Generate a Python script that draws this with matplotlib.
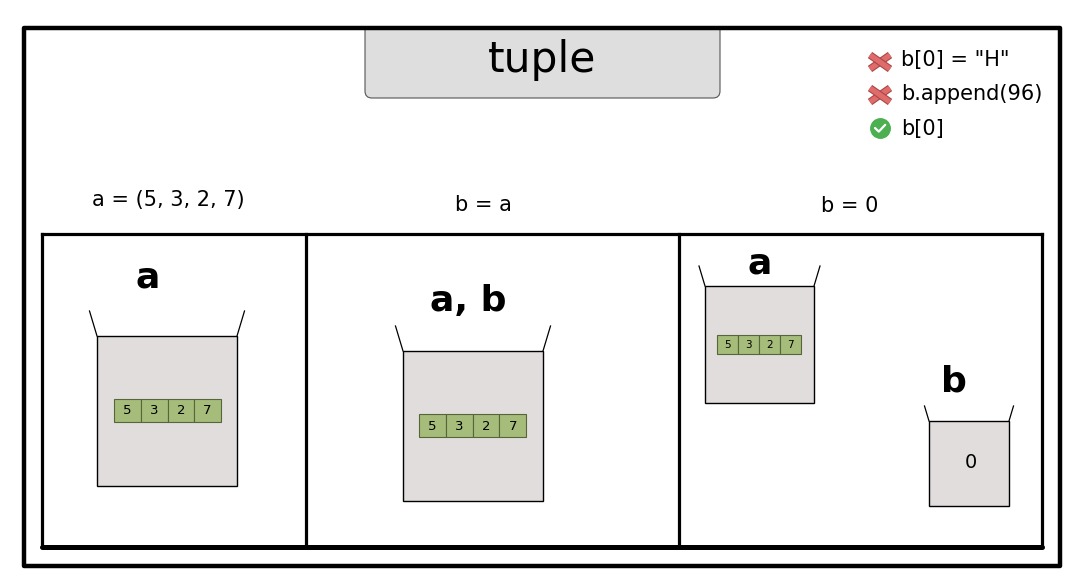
import matplotlib
matplotlib.use("Agg")
import matplotlib.pyplot as plt
from matplotlib.patches import Rectangle, FancyBboxPatch
import matplotlib.patheffects as pe

# ---- data ----
title = "tuple"
tuple_values = [5, 3, 2, 7]
b_value = 0
code_steps = ["a = (5, 3, 2, 7)", "b = a", "b = 0"]
var_labels = ["a", "a, b", "a", "b"]
legend_labels = ['b[0] = "H"', "b.append(96)", "b[0]"]
legend_ok = [False, False, True]

BOX_FILL = "#e1dddd"
CELL_FILL = "#a6bc7a"
CELL_EDGE = "#55663a"

fig = plt.figure(figsize=(10.85, 5.85), dpi=100)
ax = fig.add_axes([0, 0, 1, 1])
ax.set_xlim(0, 1085)
ax.set_ylim(585, 0)
ax.axis("off")

# title box (top edge hidden under the border)
tb = FancyBboxPatch((365, 14), 355, 84, boxstyle="round,pad=0,rounding_size=7",
                    fc="#dedede", ec="#555555", lw=0.8, zorder=1)
ax.add_patch(tb)
clip = Rectangle((0, 28), 1085, 557, transform=ax.transData)
tb.set_clip_path(clip)
ax.text(542.5, 60, title, fontsize=30.5, ha="center", va="center", zorder=3)

# outer border
ax.add_patch(Rectangle((24, 28), 1036, 538, fill=False, ec="black", lw=3.2, zorder=2,
                       joinstyle="round"))

# inner panel
ax.plot([42, 1042], [234, 234], color="black", lw=2.3, zorder=2)
ax.plot([42, 42], [234, 547], color="black", lw=2.3, zorder=2)
ax.plot([1042, 1042], [234, 547], color="black", lw=2.3, zorder=2)
ax.plot([306, 306], [234, 547], color="black", lw=2.3, zorder=2)
ax.plot([679, 679], [234, 547], color="black", lw=2.3, zorder=2)
ax.plot([42, 1042], [547, 547], color="black", lw=3.6, solid_capstyle="round", zorder=2)

# step captions
for (x, y), s in zip([(168, 200), (483, 205), (850, 206)], code_steps):
    ax.text(x, y, s, fontsize=15, ha="center", va="center")


def bucket(x0, y0, w, h, flare, hh):
    ax.add_patch(Rectangle((x0, y0), w, h, fc=BOX_FILL, ec="black", lw=1.0, zorder=2))
    ax.plot([x0 - flare, x0], [y0 - hh, y0], color="black", lw=0.9, zorder=2)
    ax.plot([x0 + w + flare, x0 + w], [y0 - hh, y0], color="black", lw=0.9, zorder=2)


def cells(x0, y0, w, h, values, fs):
    cw = w / len(values)
    for i, v in enumerate(values):
        ax.add_patch(Rectangle((x0 + i * cw, y0), cw, h, fc=CELL_FILL, ec=CELL_EDGE,
                               lw=0.8, zorder=3))
        ax.text(x0 + (i + 0.5) * cw, y0 + h / 2 + 0.5, str(v), fontsize=fs,
                ha="center", va="center", zorder=4)


# panel 1
bucket(97, 336, 140, 150, 7.5, 25)
cells(114, 399, 107, 23, tuple_values, 9.5)
ax.text(148, 278, var_labels[0], fontsize=26, fontweight="bold", ha="center", va="center")

# panel 2
bucket(403, 351, 140, 150, 7.5, 25)
cells(419, 414, 107, 23, tuple_values, 9.5)
ax.text(468, 301, var_labels[1], fontsize=26, fontweight="bold", ha="center", va="center")

# panel 3
bucket(705, 286, 109, 117, 6, 20)
cells(717, 335, 84, 19, tuple_values, 7.5)
ax.text(760, 264, var_labels[2], fontsize=26, fontweight="bold", ha="center", va="center")

bucket(929, 421, 80, 85, 4.5, 15)
ax.text(971, 463, str(b_value), fontsize=14, ha="center", va="center", zorder=4)
ax.text(954, 381, var_labels[3], fontsize=26, fontweight="bold", ha="center", va="center")

# legend
icon_y = [62, 95, 128]
text_y = [60, 94, 129]
stroke = [pe.Stroke(linewidth=5.4, foreground="#a84848"), pe.Normal()]
for lab, ok, iy, ty in zip(legend_labels, legend_ok, icon_y, text_y):
    if ok:
        ax.plot([880], [iy], marker="o", ms=14, mfc="#4caf50", mec="#4caf50", zorder=3)
        ax.plot([875, 878.8, 885.2], [iy, iy + 3.6, iy - 3.2], color="white", lw=1.6,
                solid_capstyle="round", zorder=4)
    else:
        for dy in (-1, 1):
            ax.plot([870, 890], [iy - 7 * dy, iy + 7 * dy], color="#e06b6b", lw=3.8,
                    solid_capstyle="butt", zorder=3, path_effects=stroke)
    ax.text(901, ty, lab, fontsize=15, ha="left", va="center")

fig.savefig("out.png", dpi=100, facecolor="white")
